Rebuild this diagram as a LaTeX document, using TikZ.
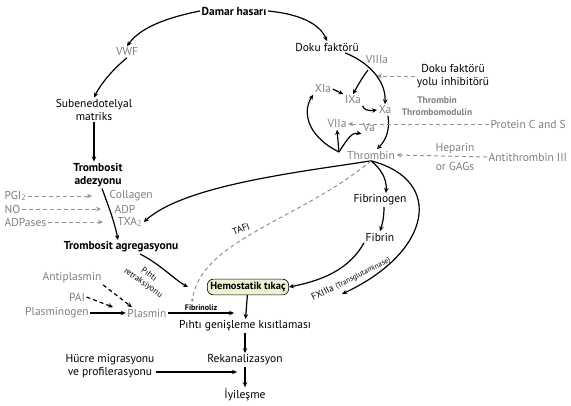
\documentclass[tikz,border=0pt]{standalone}
\usepackage{fontspec}
\setmainfont{PT Sans}
\usetikzlibrary{arrows.meta}
\definecolor{gri}{HTML}{7F7F7F}
\definecolor{tikac}{HTML}{EEF2D2}
\begin{document}
\fontsize{11.5}{13}\selectfont
\begin{tikzpicture}[x=1pt,y=-1pt,
    every node/.style={inner sep=1.5pt},
    gr/.style={text=gri},
    ok/.style={line width=1.2pt,-{Stealth[length=5pt,width=4.5pt]}},
    kesik/.style={gri!85,line width=1pt,dash pattern=on 4pt off 3pt,-{Stealth[length=5pt,width=4.5pt]}},
    kucuk/.style={text=gri,font=\fontsize{9.5}{12}\selectfont\bfseries}]
\useasboundingbox (0,0) rectangle (571,405);
% ust kisim
\node[font=\bfseries] (damar) at (234,11) {Damar hasarı};
\node[gr] (vwf) at (127,52) {VWF};
\node[align=center] (sub) at (94,110) {Subenedotelyal\\matriks};
\node[align=center,font=\bfseries] (adez) at (98,175) {Trombosit\\adezyonu};
\draw[ok] (damar.west) .. controls (165,18) and (140,28) .. (vwf.north);
\draw[ok] (vwf.south) .. controls (112,70) and (100,85) .. (sub.north);
\draw[ok] (sub.south) -- (sub.south |- adez.north);
% trombosit
\node[gr,anchor=west] (pgi) at (3,196) {PGI\textsubscript{2}};
\node[gr,anchor=west] (no) at (3,209) {NO};
\node[gr,anchor=west] (adpase) at (3,222) {ADPases};
\node[gr,anchor=west] (col) at (108,196) {Collagen};
\node[gr,anchor=west] (adp) at (113,209) {ADP};
\node[gr,anchor=west] (txa) at (116,222) {TXA\textsubscript{2}};
\draw[kesik,shorten >=16pt] (pgi.east) -- (col.west);
\draw[kesik,shorten >=12pt] (no.east) -- (adp.west);
\draw[kesik,shorten >=13pt] (adpase.east) -- (txa.west);
\node[font=\bfseries] (agr) at (121,247) {Trombosit agregasyonu};
\draw[ok] ([xshift=4pt]adez.south) .. controls (108,205) and (114,220) .. ([xshift=-3pt]agr.north);
% doku faktoru yolu
\node (doku) at (327,47) {Doku faktörü};
\node[gr] (viii) at (377,60) {VIIIa};
\node[align=center] (inh) at (453,76) {Doku faktörü\\yolu inhibitörü};
\coordinate (inhuc) at (377,76);
\draw[kesik] (inh.west) -- (inhuc);
\draw[ok] (damar.east) .. controls (300,14) and (320,24) .. (doku.north);
\node[gr] (xia) at (323,89) {XIa};
\node[gr] (ixa) at (353,100) {IXa};
\node[gr] (xa) at (385,110) {Xa};
\node[kucuk,align=center] (tm) at (437,106) {Thrombin\\Thrombomodulin};
\node[gr] (viia) at (337,124) {VIIa};
\node[gr] (va) at (369,128) {Va};
\node[gr,anchor=west] (prot) at (489,124) {Protein C and S};
\node[gr] (thr) at (371,155) {Thrombin};
\node[gr,align=center] (hep) at (455,157) {Heparin\\[6pt]or GAGs};
\node[gr,anchor=west] (anti) at (487,157) {Antithrombin III};
\coordinate (br) at (368,70);
\coordinate (thrk) at (339,152);
\draw[ok] ([xshift=18pt]doku.south) .. controls (368,62) and (386,80) .. (xa.north);
\draw[ok] (br) .. controls (362,78) and (358,85) .. (ixa.north);
\draw[ok] (xia.east) -- (ixa.north west);
\draw[ok] (ixa.south east) .. controls (364,110) and (368,111) .. (xa.west);
\draw[ok] ([xshift=3pt]xa.south) .. controls (390,130) and (386,140) .. ([xshift=6pt]thr.north);
\draw[kesik] (prot.west) -- (viia.east);
\draw[kesik] (anti.west) -- (thr.east);
\draw[ok] (thrk) .. controls (305,135) and (303,110) .. (xia.south west);
\draw[ok] (thrk) -- (viia.south);
\draw[ok] (thrk) .. controls (348,138) and (352,132) .. (va.south west);
% fibrin
\node (fbg) at (380,200) {Fibrinogen};
\node (fbn) at (380,237) {Fibrin};
\draw[ok] (thr.south) .. controls (380,168) and (387,178) .. ([xshift=6pt]fbg.north);
\draw[ok] ([xshift=4pt]fbg.south) .. controls (384,216) and (383,222) .. (fbn.north);
\draw[ok] (thr.south) .. controls (300,172) and (185,185) .. (txa.east);
% alt kisim
\node[draw,rounded corners=6pt,fill=tikac,line width=0.6pt,font=\fontsize{10.5}{12}\selectfont\bfseries,inner sep=3pt] (hem) at (248,287) {Hemostatik tıkaç};
\node (pge) at (245,326) {Pıhtı genişleme kısıtlaması};
\node (rek) at (245,360) {Rekanalizasyon};
\node (iyi) at (245,395) {İyileşme};
\node[align=center] (hcr) at (110,366) {Hücre migrasyonu\\ve profilerasyonu};
\coordinate (fxuc) at (342,294);
\draw[ok] (thr.south) .. controls (445,180) and (432,252) .. (fxuc);
\draw[ok] (fbn.south west) .. controls (350,268) and (325,280) .. (hem.east);
\node[rotate=27,font=\fontsize{9.5}{11}\selectfont] (fx) at (351,279) {FXIIIa {\fontsize{7.5}{8}\selectfont (Transglutaminase)}};
\coordinate (tafiuc) at (192,302);
\draw[kesik,-{Stealth[length=3pt,width=3pt]}] (thr.south) .. controls (300,220) and (200,240) .. (tafiuc);
\node[rotate=20,font=\fontsize{9.5}{11}\selectfont] (tafi) at (241,229) {TAFI};
\node[rotate=-35,align=center,font=\fontsize{8.5}{10}\selectfont] (ret) at (146,279) {Pıhtı\\retraksiyonu};
\coordinate (retuc) at (188,287);
\draw[ok] ([xshift=19pt]agr.south) .. controls (160,264) and (175,280) .. (retuc);
% plazmin
\node[gr] (aplas) at (72,278) {Antiplasmin};
\node[gr] (pai) at (77,297) {PAI};
\node[gr] (plg) at (57,313) {Plasminogen};
\node[gr] (pls) at (147,313) {Plasmin};
\draw[ok,dash pattern=on 4pt off 3pt] (aplas.south east) -- ([xshift=-15pt]pls.north);
\draw[ok,dash pattern=on 4pt off 3pt] (pai.east) -- ([xshift=-34pt]pls.north);
\draw[ok] (plg) -- (pls);
\coordinate (fibuc) at (234,313);
\draw[ok] (pls) -- (fibuc) node[midway,above,font=\fontsize{8}{9}\selectfont\bfseries] {Fibrinoliz};
\draw[ok] (hem) -- (pge);
\draw[ok] (pge) -- (rek);
\draw[ok] (rek) -- (iyi);
\coordinate (hcruc) at (237,372);
\draw[ok] ([yshift=-6pt]hcr.east) -- (hcruc);
\end{tikzpicture}
\end{document}
